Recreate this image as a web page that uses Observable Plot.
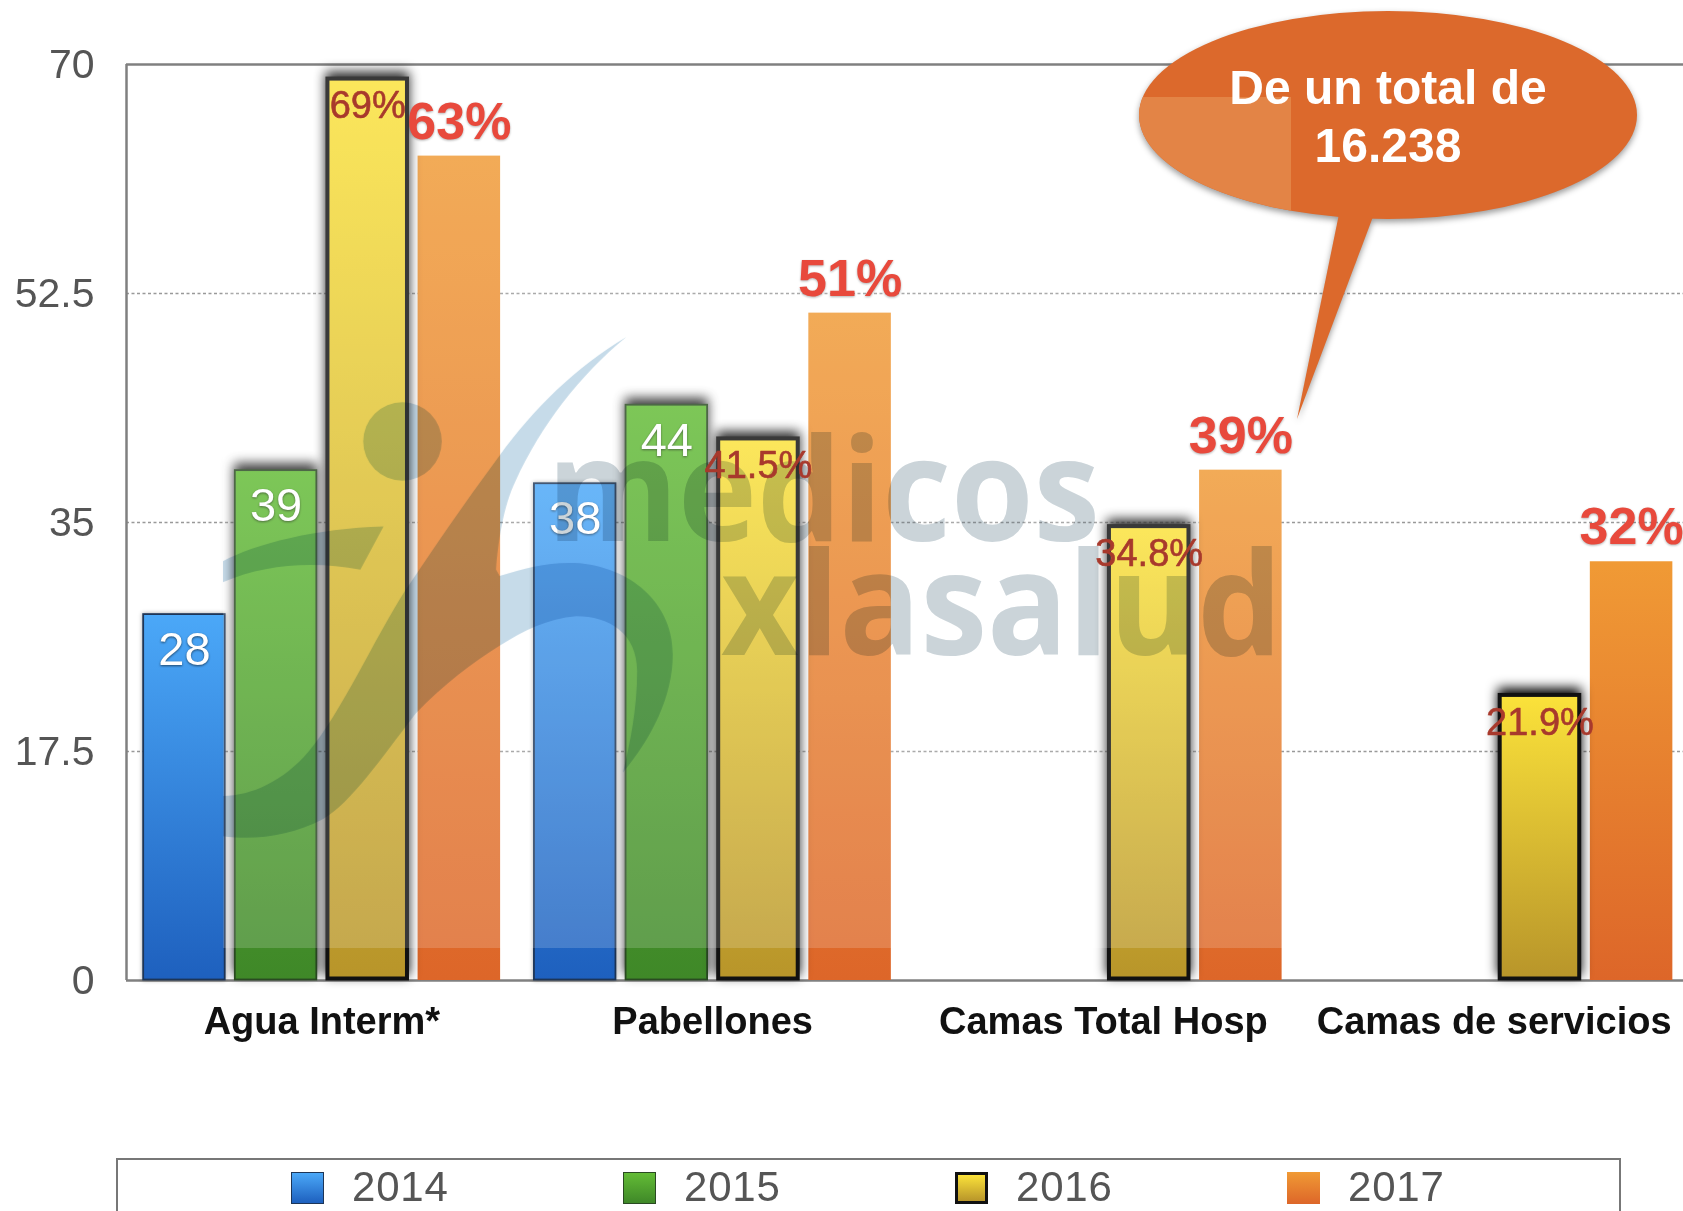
<!DOCTYPE html>
<html lang="es">
<head>
<meta charset="utf-8">
<title>Agua Interm, Pabellones, Camas</title>
<script src="https://cdn.jsdelivr.net/npm/d3@7"></script>
<script src="https://cdn.jsdelivr.net/npm/@observablehq/plot@0.6"></script>
<style>
  html, body { margin: 0; padding: 0; background: #fff; overflow: hidden; width: 1683px; height: 1211px; }
  #chart { position: relative; width: 1683px; height: 1211px; overflow: hidden; filter: blur(0.6px); font-family: "Liberation Sans", Arial, sans-serif; }
  #chart > svg { display: block; position: absolute; left: 0; top: 0; max-width: none; }
  .legend { position: absolute; left: 116px; top: 1158px; width: 1505px; height: 53px; box-sizing: border-box; border: 2px solid #777; border-bottom: none; background: #fff; }
  .legend-item { position: absolute; top: 8.5px; display: flex; align-items: center; height: 36px; color: #555; font-size: 42px; letter-spacing: 0.8px; line-height: 36px; }
  .swatch { width: 33px; height: 32px; margin-right: 28px; box-sizing: border-box; display: inline-block; position: relative; top: 1.5px; }
</style>
</head>
<body>
<div id="chart"></div>
<script>
const categories = ["Agua Interm*", "Pabellones", "Camas Total Hosp", "Camas de servicios"];
const years = ["2014", "2015", "2016", "2017"];
const values2014 = [28, 38, null, null];
const values2015 = [39, 44, null, null];
const values2016 = [69, 41.5, 34.8, 21.9];
const values2017 = [63, 51, 39, 32];
const labels2016 = ["69%", "41.5%", "34.8%", "21.9%"];
const labels2017 = ["63%", "51%", "39%", "32%"];
const yTicks = [0, 17.5, 35, 52.5, 70];
const gridTicks = [17.5, 35, 52.5];
const calloutLines = ["De un total de", "16.238"];
const watermarkLines = ["medicos", "xlasalud"];

const gradients = {
  "2014": ["#4ba8f8", "#1e60be"],
  "2015": ["#63bc36", "#3f8828"],
  "2016": ["#fbe23a", "#b8952a"],
  "2017": ["#f09a35", "#dd6629"]
};

// Layout of the bars inside one category, in category units of the x scale
const groupOffset = 0.0427, barStep = 0.2345, barWidth = 0.2112;

const rowsFor = (year, values, labels) =>
  categories.map((cat, i) => {
    const x1 = i + groupOffset + years.indexOf(year) * barStep;
    return {cat, year, value: values[i], label: labels ? labels[i] : String(values[i]), x1, x2: x1 + barWidth, xc: x1 + barWidth / 2};
  }).filter(d => d.value != null);

const rows2014 = rowsFor("2014", values2014);
const rows2015 = rowsFor("2015", values2015);
const rows2016 = rowsFor("2016", values2016, labels2016);
const rows2017 = rowsFor("2017", values2017, labels2017);

const barOpts = {x1: "x1", x2: "x2", y1: 0, y2: "value"};
const labelOpts = {x: "xc", y: "value", text: "label", lineAnchor: "middle"};
const gray = "#808080";

const svg = Plot.plot({
  width: 1689,
  height: 1158,
  marginTop: 64,
  marginBottom: 178,
  marginLeft: 126,
  marginRight: 0,
  style: {fontFamily: "Liberation Sans, Arial, sans-serif", background: "transparent", overflow: "visible"},
  x: {domain: [0, 4], axis: null},
  y: {domain: [0, 70], axis: null},
  marks: [
    Plot.ruleY(gridTicks, {stroke: "#999", strokeWidth: 1.5, strokeDasharray: "3,2.5"}),
    Plot.ruleY([0, 70], {stroke: gray, strokeWidth: 2.5}),
    Plot.ruleX([0], {stroke: gray, strokeWidth: 2.5}),
    Plot.axisY(yTicks, {anchor: "left", tickSize: 0, tickPadding: 32, fontSize: 41, fill: "#555", dy: 0.5, tickFormat: d => String(d), label: null}),
    Plot.axisX(categories.map((c, i) => i + 0.5), {anchor: "bottom", tickSize: 0, tickPadding: 27, fontSize: 38, fontWeight: "bold", fill: "#111", tickFormat: d => categories[Math.floor(d)], label: null}),
    Plot.rectY(rows2017, {...barOpts, fill: "url(#g2017)"}),
    Plot.rectY(rows2014, {...barOpts, fill: "url(#g2014)", stroke: "#1d3557", strokeWidth: 1.8, inset: 0.5, imageFilter: "drop-shadow(0 0 2px rgba(0,0,0,.35))"}),
    Plot.rectY(rows2015, {...barOpts, fill: "url(#g2015)", stroke: "#2a4a22", strokeWidth: 1.8, inset: 0.5, imageFilter: "drop-shadow(0 -6px 6px rgba(0,0,0,.9))"}),
    Plot.rectY(rows2016, {...barOpts, fill: "url(#g2016)", stroke: "#111", strokeWidth: 4, inset: 1.5, imageFilter: "drop-shadow(0 -5px 6px #000)"}),
    Plot.text([...rows2014, ...rows2015], {...labelOpts, fill: "#fff", fontSize: 47, dy: 36, imageFilter: "drop-shadow(0 1px 1px rgba(0,0,0,.55))"}),
    Plot.text(rows2016, {...labelOpts, fill: "#a8392c", stroke: "#a8392c", strokeWidth: 0.6, fontSize: 38, dy: 28.5}),
    Plot.text(rows2017, {...labelOpts, fill: "#e8493c", fontSize: 52, fontWeight: "bold", dy: -34, imageFilter: "drop-shadow(0 1px 1px rgba(0,0,0,.3))"})
  ]
});

const root = d3.select(svg);

// Gradients used by the bars
const defs = root.append("defs");
Object.entries(gradients).forEach(([year, [top, bottom]]) => {
  const g = defs.append("linearGradient").attr("id", "g" + year).attr("x1", 0).attr("x2", 0).attr("y1", 0).attr("y2", 1);
  g.append("stop").attr("offset", 0).attr("stop-color", top);
  g.append("stop").attr("offset", 1).attr("stop-color", bottom);
});
defs.append("clipPath").attr("id", "wm-clip").append("rect").attr("x", 223).attr("y", 66).attr("width", 1059).attr("height", 882);

// The text marks in order: white labels, 2016 labels, 2017 labels
const percentLabels = Array.from(svg.querySelectorAll('g[aria-label="text"]')).slice(1);

// Watermark picture laid over the plot
root.append("rect").attr("aria-label", "watermark-wash").attr("x", 223).attr("y", 66).attr("width", 1059).attr("height", 882).attr("fill", "#fff").attr("fill-opacity", 0.17);
const logoLayer = root.append("g").attr("aria-label", "watermark-logo").attr("clip-path", "url(#wm-clip)").style("mix-blend-mode", "multiply");
const logo = logoLayer.append("g").attr("transform", "translate(130 320) scale(.3571 .423)").attr("fill", "#c6dbe9");
logo.append("ellipse").attr("cx", 763).attr("cy", 287).attr("rx", 110).attr("ry", 93);
logo.append("path").attr("d",
  "M1390 40C1250 110 1130 210 1035 320C930 440 850 540 770 640C680 760 590 930 500 1020C430 1090 340 1125 260 1125" +
  "L260 1220C350 1230 450 1220 540 1180C620 1140 700 1040 800 930C880 860 960 810 1035 770C1100 735 1170 705 1250 700" +
  "C1340 700 1420 740 1420 830C1420 920 1400 1000 1380 1070C1460 990 1520 890 1520 790C1520 680 1420 590 1260 575" +
  "C1180 570 1110 585 1035 605L1025 590C1030 530 1045 440 1080 380C1150 250 1260 130 1390 40Z");
logo.append("path").attr("d", "M260 570C350 530 520 492 710 488L645 590C520 570 380 575 260 620Z");
const wmText = root.append("g").attr("aria-label", "watermark-text").attr("clip-path", "url(#wm-clip)").style("mix-blend-mode", "multiply")
  .attr("fill", "#cbd4d9").attr("text-anchor", "start")
  .attr("font-family", "Open Sans, Liberation Sans, sans-serif").attr("font-weight", 700).attr("font-size", 144);
wmText.append("text").attr("x", 547).attr("y", 541).attr("textLength", 553).attr("lengthAdjust", "spacingAndGlyphs").text(watermarkLines[0]);
wmText.append("text").attr("x", 721).attr("y", 655).attr("textLength", 561).attr("lengthAdjust", "spacingAndGlyphs").text(watermarkLines[1]);

// The percentage labels stay above the watermark
percentLabels.forEach(node => svg.appendChild(node));

// Callout balloon
const callout = root.append("g").attr("aria-label", "callout");
const balloon = callout.append("g").style("filter", "drop-shadow(0 3px 3px rgba(0,0,0,.4))").attr("fill", "#dc692c");
balloon.append("ellipse").attr("cx", 1388).attr("cy", 115).attr("rx", 249).attr("ry", 104);
balloon.append("path").attr("d", "M1339 214L1297 419L1374 214Z");
defs.append("clipPath").attr("id", "balloon-clip").append("ellipse").attr("cx", 1388).attr("cy", 115).attr("rx", 249).attr("ry", 104);
callout.append("rect").attr("x", 1130).attr("y", 97).attr("width", 161).attr("height", 130)
  .attr("fill", "#e38446").attr("clip-path", "url(#balloon-clip)");
callout.selectAll("text").data(calloutLines).join("text")
  .attr("x", 1388).attr("y", (d, i) => 104 + i * 58)
  .attr("text-anchor", "middle").attr("fill", "#fff").attr("font-size", 48).attr("font-weight", "bold")
  .text(d => d);

const chart = document.getElementById("chart");
chart.appendChild(svg);

// Legend below the SVG
const legend = d3.select(chart).append("div").attr("class", "legend");
const swatchStyle = {
  "2014": "border:1.5px solid #1d3557;",
  "2015": "border:1.5px solid #2a4a22;",
  "2016": "border:3px solid #111;",
  "2017": ""
};
years.forEach((year, i) => {
  const item = legend.append("div").attr("class", "legend-item").style("left", (173 + i * 332) + "px");
  item.append("span").attr("class", "swatch")
    .attr("style", `background:linear-gradient(${gradients[year][0]},${gradients[year][1]});${swatchStyle[year]}`);
  item.append("span").text(year);
});
</script>
</body>
</html>
